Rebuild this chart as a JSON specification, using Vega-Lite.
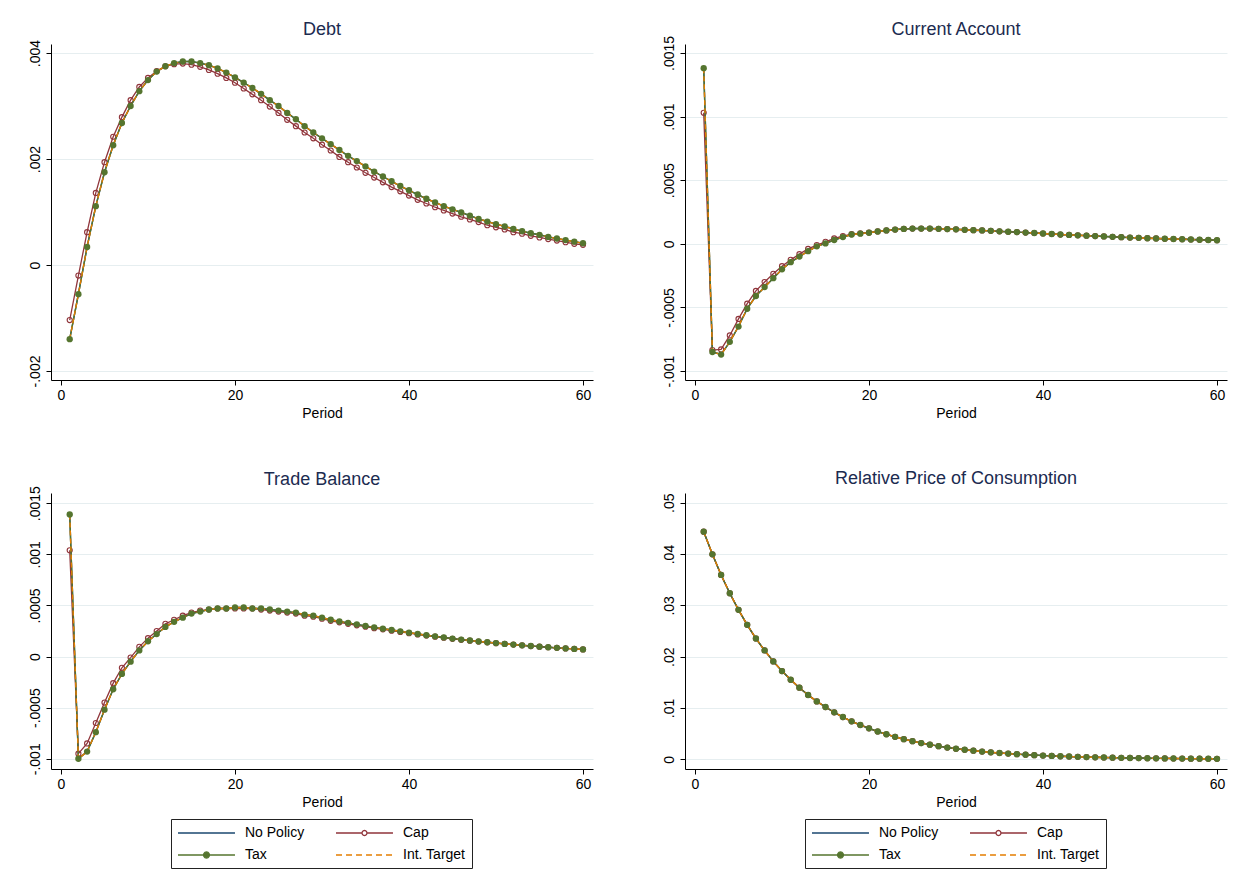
{
"$schema": "https://vega.github.io/schema/vega-lite/v6.json",
"background": "white",
"padding": {"left": 28, "top": 21, "right": 5, "bottom": 5},
"datasets": {
"debt": [
{"t":1,"np":-0.0014,"cap":-0.00104,"tax":-0.0014,"it":-0.0014},
{"t":2,"np":-0.00055,"cap":-0.0002,"tax":-0.00055,"it":-0.00055},
{"t":3,"np":0.00034,"cap":0.00062,"tax":0.00034,"it":0.00034},
{"t":4,"np":0.00111,"cap":0.00136,"tax":0.00111,"it":0.00111},
{"t":5,"np":0.00175,"cap":0.00194,"tax":0.00175,"it":0.00175},
{"t":6,"np":0.00226,"cap":0.00242,"tax":0.00226,"it":0.00226},
{"t":7,"np":0.00268,"cap":0.00279,"tax":0.00268,"it":0.00268},
{"t":8,"np":0.003,"cap":0.00311,"tax":0.003,"it":0.003},
{"t":9,"np":0.00328,"cap":0.00336,"tax":0.00328,"it":0.00328},
{"t":10,"np":0.00349,"cap":0.00353,"tax":0.00349,"it":0.00349},
{"t":11,"np":0.00365,"cap":0.00366,"tax":0.00365,"it":0.00365},
{"t":12,"np":0.00375,"cap":0.00375,"tax":0.00375,"it":0.00375},
{"t":13,"np":0.00381,"cap":0.00379,"tax":0.00381,"it":0.00381},
{"t":14,"np":0.00384,"cap":0.0038,"tax":0.00384,"it":0.00384},
{"t":15,"np":0.00384,"cap":0.00378,"tax":0.00384,"it":0.00384},
{"t":16,"np":0.00381,"cap":0.00374,"tax":0.00381,"it":0.00381},
{"t":17,"np":0.00377,"cap":0.00368,"tax":0.00377,"it":0.00377},
{"t":18,"np":0.00371,"cap":0.00361,"tax":0.00371,"it":0.00371},
{"t":19,"np":0.00363,"cap":0.00353,"tax":0.00363,"it":0.00363},
{"t":20,"np":0.00354,"cap":0.00344,"tax":0.00354,"it":0.00354},
{"t":21,"np":0.00344,"cap":0.00333,"tax":0.00344,"it":0.00344},
{"t":22,"np":0.00334,"cap":0.00322,"tax":0.00334,"it":0.00334},
{"t":23,"np":0.00323,"cap":0.00311,"tax":0.00323,"it":0.00323},
{"t":24,"np":0.00311,"cap":0.00299,"tax":0.00311,"it":0.00311},
{"t":25,"np":0.003,"cap":0.00287,"tax":0.003,"it":0.003},
{"t":26,"np":0.00287,"cap":0.00274,"tax":0.00287,"it":0.00287},
{"t":27,"np":0.00275,"cap":0.00262,"tax":0.00275,"it":0.00275},
{"t":28,"np":0.00262,"cap":0.0025,"tax":0.00262,"it":0.00262},
{"t":29,"np":0.0025,"cap":0.00239,"tax":0.0025,"it":0.0025},
{"t":30,"np":0.00239,"cap":0.00227,"tax":0.00239,"it":0.00239},
{"t":31,"np":0.00228,"cap":0.00216,"tax":0.00228,"it":0.00228},
{"t":32,"np":0.00217,"cap":0.00204,"tax":0.00217,"it":0.00217},
{"t":33,"np":0.00206,"cap":0.00194,"tax":0.00206,"it":0.00206},
{"t":34,"np":0.00196,"cap":0.00184,"tax":0.00196,"it":0.00196},
{"t":35,"np":0.00186,"cap":0.00174,"tax":0.00186,"it":0.00186},
{"t":36,"np":0.00176,"cap":0.00165,"tax":0.00176,"it":0.00176},
{"t":37,"np":0.00167,"cap":0.00156,"tax":0.00167,"it":0.00167},
{"t":38,"np":0.00158,"cap":0.00147,"tax":0.00158,"it":0.00158},
{"t":39,"np":0.00149,"cap":0.00139,"tax":0.00149,"it":0.00149},
{"t":40,"np":0.00141,"cap":0.00131,"tax":0.00141,"it":0.00141},
{"t":41,"np":0.00133,"cap":0.00123,"tax":0.00133,"it":0.00133},
{"t":42,"np":0.00125,"cap":0.00116,"tax":0.00125,"it":0.00125},
{"t":43,"np":0.00118,"cap":0.00109,"tax":0.00118,"it":0.00118},
{"t":44,"np":0.00111,"cap":0.00103,"tax":0.00111,"it":0.00111},
{"t":45,"np":0.00105,"cap":0.00097,"tax":0.00105,"it":0.00105},
{"t":46,"np":0.00099,"cap":0.00091,"tax":0.00099,"it":0.00099},
{"t":47,"np":0.00093,"cap":0.00086,"tax":0.00093,"it":0.00093},
{"t":48,"np":0.00087,"cap":0.00081,"tax":0.00087,"it":0.00087},
{"t":49,"np":0.00082,"cap":0.00075,"tax":0.00082,"it":0.00082},
{"t":50,"np":0.00077,"cap":0.00071,"tax":0.00077,"it":0.00077},
{"t":51,"np":0.00073,"cap":0.00067,"tax":0.00073,"it":0.00073},
{"t":52,"np":0.00068,"cap":0.00062,"tax":0.00068,"it":0.00068},
{"t":53,"np":0.00064,"cap":0.00059,"tax":0.00064,"it":0.00064},
{"t":54,"np":0.0006,"cap":0.00055,"tax":0.0006,"it":0.0006},
{"t":55,"np":0.00057,"cap":0.00052,"tax":0.00057,"it":0.00057},
{"t":56,"np":0.00053,"cap":0.00049,"tax":0.00053,"it":0.00053},
{"t":57,"np":0.0005,"cap":0.00046,"tax":0.0005,"it":0.0005},
{"t":58,"np":0.00047,"cap":0.00043,"tax":0.00047,"it":0.00047},
{"t":59,"np":0.00044,"cap":0.0004,"tax":0.00044,"it":0.00044},
{"t":60,"np":0.00041,"cap":0.00038,"tax":0.00041,"it":0.00041}
],
"ca": [
{"t":1,"np":0.00138,"cap":0.00103,"tax":0.00138,"it":0.00138},
{"t":2,"np":-0.00085,"cap":-0.000835,"tax":-0.00085,"it":-0.00085},
{"t":3,"np":-0.00087,"cap":-0.00083,"tax":-0.00087,"it":-0.00087},
{"t":4,"np":-0.00077,"cap":-0.00072,"tax":-0.00077,"it":-0.00077},
{"t":5,"np":-0.00065,"cap":-0.00059,"tax":-0.00065,"it":-0.00065},
{"t":6,"np":-0.00051,"cap":-0.00047,"tax":-0.00051,"it":-0.00051},
{"t":7,"np":-0.00041,"cap":-0.00037,"tax":-0.00041,"it":-0.00041},
{"t":8,"np":-0.00034,"cap":-0.0003,"tax":-0.00034,"it":-0.00034},
{"t":9,"np":-0.00027,"cap":-0.000236,"tax":-0.00027,"it":-0.00027},
{"t":10,"np":-0.0002,"cap":-0.000176,"tax":-0.0002,"it":-0.0002},
{"t":11,"np":-0.000144,"cap":-0.000126,"tax":-0.000144,"it":-0.000144},
{"t":12,"np":-0.0001,"cap":-0.000081,"tax":-0.0001,"it":-0.0001},
{"t":13,"np":-0.000058,"cap":-0.00004,"tax":-0.000058,"it":-0.000058},
{"t":14,"np":-0.00002,"cap":-0.00001,"tax":-0.00002,"it":-0.00002},
{"t":15,"np":0.000003,"cap":0.000016,"tax":0.000003,"it":0.000003},
{"t":16,"np":0.00003,"cap":0.000042,"tax":0.00003,"it":0.00003},
{"t":17,"np":0.000053,"cap":0.00006,"tax":0.000053,"it":0.000053},
{"t":18,"np":0.000073,"cap":0.000076,"tax":0.000073,"it":0.000073},
{"t":19,"np":0.00008,"cap":0.000083,"tax":0.00008,"it":0.00008},
{"t":20,"np":0.000087,"cap":0.000088,"tax":0.000087,"it":0.000087},
{"t":21,"np":0.000097,"cap":0.000097,"tax":0.000097,"it":0.000097},
{"t":22,"np":0.000105,"cap":0.000105,"tax":0.000105,"it":0.000105},
{"t":23,"np":0.000112,"cap":0.000112,"tax":0.000112,"it":0.000112},
{"t":24,"np":0.000117,"cap":0.000117,"tax":0.000117,"it":0.000117},
{"t":25,"np":0.00012,"cap":0.00012,"tax":0.00012,"it":0.00012},
{"t":26,"np":0.00012,"cap":0.00012,"tax":0.00012,"it":0.00012},
{"t":27,"np":0.00012,"cap":0.00012,"tax":0.00012,"it":0.00012},
{"t":28,"np":0.000118,"cap":0.000118,"tax":0.000118,"it":0.000118},
{"t":29,"np":0.000116,"cap":0.000116,"tax":0.000116,"it":0.000116},
{"t":30,"np":0.000114,"cap":0.000114,"tax":0.000114,"it":0.000114},
{"t":31,"np":0.00011,"cap":0.00011,"tax":0.00011,"it":0.00011},
{"t":32,"np":0.000107,"cap":0.000107,"tax":0.000107,"it":0.000107},
{"t":33,"np":0.000105,"cap":0.000105,"tax":0.000105,"it":0.000105},
{"t":34,"np":0.000102,"cap":0.000102,"tax":0.000102,"it":0.000102},
{"t":35,"np":0.000098,"cap":0.000098,"tax":0.000098,"it":0.000098},
{"t":36,"np":0.000095,"cap":0.000095,"tax":0.000095,"it":0.000095},
{"t":37,"np":0.000092,"cap":0.000092,"tax":0.000092,"it":0.000092},
{"t":38,"np":0.000088,"cap":0.000088,"tax":0.000088,"it":0.000088},
{"t":39,"np":0.000085,"cap":0.000085,"tax":0.000085,"it":0.000085},
{"t":40,"np":0.000081,"cap":0.000081,"tax":0.000081,"it":0.000081},
{"t":41,"np":0.000077,"cap":0.000077,"tax":0.000077,"it":0.000077},
{"t":42,"np":0.000073,"cap":0.000073,"tax":0.000073,"it":0.000073},
{"t":43,"np":0.00007,"cap":0.00007,"tax":0.00007,"it":0.00007},
{"t":44,"np":0.000067,"cap":0.000067,"tax":0.000067,"it":0.000067},
{"t":45,"np":0.000064,"cap":0.000064,"tax":0.000064,"it":0.000064},
{"t":46,"np":0.000061,"cap":0.000061,"tax":0.000061,"it":0.000061},
{"t":47,"np":0.000058,"cap":0.000058,"tax":0.000058,"it":0.000058},
{"t":48,"np":0.000055,"cap":0.000055,"tax":0.000055,"it":0.000055},
{"t":49,"np":0.000052,"cap":0.000052,"tax":0.000052,"it":0.000052},
{"t":50,"np":0.000049,"cap":0.000049,"tax":0.000049,"it":0.000049},
{"t":51,"np":0.000047,"cap":0.000047,"tax":0.000047,"it":0.000047},
{"t":52,"np":0.000044,"cap":0.000044,"tax":0.000044,"it":0.000044},
{"t":53,"np":0.000042,"cap":0.000042,"tax":0.000042,"it":0.000042},
{"t":54,"np":0.00004,"cap":0.00004,"tax":0.00004,"it":0.00004},
{"t":55,"np":0.000038,"cap":0.000038,"tax":0.000038,"it":0.000038},
{"t":56,"np":0.000036,"cap":0.000036,"tax":0.000036,"it":0.000036},
{"t":57,"np":0.000034,"cap":0.000034,"tax":0.000034,"it":0.000034},
{"t":58,"np":0.000032,"cap":0.000032,"tax":0.000032,"it":0.000032},
{"t":59,"np":0.00003,"cap":0.00003,"tax":0.00003,"it":0.00003},
{"t":60,"np":0.000028,"cap":0.000028,"tax":0.000028,"it":0.000028}
],
"tb": [
{"t":1,"np":0.00139,"cap":0.00104,"tax":0.00139,"it":0.00139},
{"t":2,"np":-0.001,"cap":-0.00095,"tax":-0.001,"it":-0.001},
{"t":3,"np":-0.00093,"cap":-0.00085,"tax":-0.00093,"it":-0.00093},
{"t":4,"np":-0.00074,"cap":-0.00065,"tax":-0.00074,"it":-0.00074},
{"t":5,"np":-0.00052,"cap":-0.00045,"tax":-0.00052,"it":-0.00052},
{"t":6,"np":-0.00032,"cap":-0.00026,"tax":-0.00032,"it":-0.00032},
{"t":7,"np":-0.00017,"cap":-0.00011,"tax":-0.00017,"it":-0.00017},
{"t":8,"np":-0.00005,"cap":-0.00001,"tax":-0.00005,"it":-0.00005},
{"t":9,"np":0.00006,"cap":0.000095,"tax":0.00006,"it":0.00006},
{"t":10,"np":0.00015,"cap":0.00018,"tax":0.00015,"it":0.00015},
{"t":11,"np":0.00022,"cap":0.00025,"tax":0.00022,"it":0.00022},
{"t":12,"np":0.00029,"cap":0.00032,"tax":0.00029,"it":0.00029},
{"t":13,"np":0.00034,"cap":0.00036,"tax":0.00034,"it":0.00034},
{"t":14,"np":0.00038,"cap":0.0004,"tax":0.00038,"it":0.00038},
{"t":15,"np":0.00042,"cap":0.00043,"tax":0.00042,"it":0.00042},
{"t":16,"np":0.00044,"cap":0.00045,"tax":0.00044,"it":0.00044},
{"t":17,"np":0.00046,"cap":0.00046,"tax":0.00046,"it":0.00046},
{"t":18,"np":0.00047,"cap":0.00047,"tax":0.00047,"it":0.00047},
{"t":19,"np":0.00047,"cap":0.00047,"tax":0.00047,"it":0.00047},
{"t":20,"np":0.00048,"cap":0.00047,"tax":0.00048,"it":0.00048},
{"t":21,"np":0.00048,"cap":0.00047,"tax":0.00048,"it":0.00048},
{"t":22,"np":0.00047,"cap":0.00047,"tax":0.00047,"it":0.00047},
{"t":23,"np":0.00047,"cap":0.00046,"tax":0.00047,"it":0.00047},
{"t":24,"np":0.00046,"cap":0.00045,"tax":0.00046,"it":0.00046},
{"t":25,"np":0.00045,"cap":0.00044,"tax":0.00045,"it":0.00045},
{"t":26,"np":0.00044,"cap":0.00043,"tax":0.00044,"it":0.00044},
{"t":27,"np":0.00043,"cap":0.00042,"tax":0.00043,"it":0.00043},
{"t":28,"np":0.00041,"cap":0.0004,"tax":0.00041,"it":0.00041},
{"t":29,"np":0.0004,"cap":0.00039,"tax":0.0004,"it":0.0004},
{"t":30,"np":0.00038,"cap":0.00037,"tax":0.00038,"it":0.00038},
{"t":31,"np":0.00036,"cap":0.00035,"tax":0.00036,"it":0.00036},
{"t":32,"np":0.000344,"cap":0.000335,"tax":0.000344,"it":0.000344},
{"t":33,"np":0.00033,"cap":0.00032,"tax":0.00033,"it":0.00033},
{"t":34,"np":0.000315,"cap":0.000306,"tax":0.000315,"it":0.000315},
{"t":35,"np":0.0003,"cap":0.000292,"tax":0.0003,"it":0.0003},
{"t":36,"np":0.000286,"cap":0.000278,"tax":0.000286,"it":0.000286},
{"t":37,"np":0.000273,"cap":0.000266,"tax":0.000273,"it":0.000273},
{"t":38,"np":0.00026,"cap":0.000253,"tax":0.00026,"it":0.00026},
{"t":39,"np":0.000247,"cap":0.000241,"tax":0.000247,"it":0.000247},
{"t":40,"np":0.000234,"cap":0.000229,"tax":0.000234,"it":0.000234},
{"t":41,"np":0.000221,"cap":0.000216,"tax":0.000221,"it":0.000221},
{"t":42,"np":0.000209,"cap":0.000205,"tax":0.000209,"it":0.000209},
{"t":43,"np":0.000198,"cap":0.000194,"tax":0.000198,"it":0.000198},
{"t":44,"np":0.000187,"cap":0.000184,"tax":0.000187,"it":0.000187},
{"t":45,"np":0.000176,"cap":0.000173,"tax":0.000176,"it":0.000176},
{"t":46,"np":0.000166,"cap":0.000164,"tax":0.000166,"it":0.000166},
{"t":47,"np":0.000157,"cap":0.000155,"tax":0.000157,"it":0.000157},
{"t":48,"np":0.000148,"cap":0.000147,"tax":0.000148,"it":0.000148},
{"t":49,"np":0.00014,"cap":0.000139,"tax":0.00014,"it":0.00014},
{"t":50,"np":0.000132,"cap":0.000131,"tax":0.000132,"it":0.000132},
{"t":51,"np":0.000124,"cap":0.000124,"tax":0.000124,"it":0.000124},
{"t":52,"np":0.000117,"cap":0.000117,"tax":0.000117,"it":0.000117},
{"t":53,"np":0.00011,"cap":0.00011,"tax":0.00011,"it":0.00011},
{"t":54,"np":0.000103,"cap":0.000103,"tax":0.000103,"it":0.000103},
{"t":55,"np":0.000097,"cap":0.000097,"tax":0.000097,"it":0.000097},
{"t":56,"np":0.000091,"cap":0.000091,"tax":0.000091,"it":0.000091},
{"t":57,"np":0.000085,"cap":0.000085,"tax":0.000085,"it":0.000085},
{"t":58,"np":0.00008,"cap":0.00008,"tax":0.00008,"it":0.00008},
{"t":59,"np":0.000075,"cap":0.000075,"tax":0.000075,"it":0.000075},
{"t":60,"np":0.00007,"cap":0.00007,"tax":0.00007,"it":0.00007}
],
"rp": [
{"t":1,"np":0.04436,"cap":0.04436,"tax":0.04436,"it":0.04436},
{"t":2,"np":0.03995,"cap":0.03995,"tax":0.03995,"it":0.03995},
{"t":3,"np":0.03593,"cap":0.03593,"tax":0.03593,"it":0.03593},
{"t":4,"np":0.03236,"cap":0.03236,"tax":0.03236,"it":0.03236},
{"t":5,"np":0.02912,"cap":0.02912,"tax":0.02912,"it":0.02912},
{"t":6,"np":0.0262,"cap":0.0262,"tax":0.0262,"it":0.0262},
{"t":7,"np":0.02354,"cap":0.02354,"tax":0.02354,"it":0.02354},
{"t":8,"np":0.02121,"cap":0.02121,"tax":0.02121,"it":0.02121},
{"t":9,"np":0.01907,"cap":0.01907,"tax":0.01907,"it":0.01907},
{"t":10,"np":0.01719,"cap":0.01719,"tax":0.01719,"it":0.01719},
{"t":11,"np":0.0155,"cap":0.0155,"tax":0.0155,"it":0.0155},
{"t":12,"np":0.01395,"cap":0.01395,"tax":0.01395,"it":0.01395},
{"t":13,"np":0.01252,"cap":0.01252,"tax":0.01252,"it":0.01252},
{"t":14,"np":0.01128,"cap":0.01128,"tax":0.01128,"it":0.01128},
{"t":15,"np":0.01018,"cap":0.01018,"tax":0.01018,"it":0.01018},
{"t":16,"np":0.00914,"cap":0.00914,"tax":0.00914,"it":0.00914},
{"t":17,"np":0.00823,"cap":0.00823,"tax":0.00823,"it":0.00823},
{"t":18,"np":0.00739,"cap":0.00739,"tax":0.00739,"it":0.00739},
{"t":19,"np":0.00668,"cap":0.00668,"tax":0.00668,"it":0.00668},
{"t":20,"np":0.00603,"cap":0.00603,"tax":0.00603,"it":0.00603},
{"t":21,"np":0.00541,"cap":0.00541,"tax":0.00541,"it":0.00541},
{"t":22,"np":0.00487,"cap":0.00487,"tax":0.00487,"it":0.00487},
{"t":23,"np":0.00437,"cap":0.00437,"tax":0.00437,"it":0.00437},
{"t":24,"np":0.00392,"cap":0.00392,"tax":0.00392,"it":0.00392},
{"t":25,"np":0.00352,"cap":0.00352,"tax":0.00352,"it":0.00352},
{"t":26,"np":0.00316,"cap":0.00316,"tax":0.00316,"it":0.00316},
{"t":27,"np":0.00284,"cap":0.00284,"tax":0.00284,"it":0.00284},
{"t":28,"np":0.00255,"cap":0.00255,"tax":0.00255,"it":0.00255},
{"t":29,"np":0.00228,"cap":0.00228,"tax":0.00228,"it":0.00228},
{"t":30,"np":0.00205,"cap":0.00205,"tax":0.00205,"it":0.00205},
{"t":31,"np":0.00185,"cap":0.00185,"tax":0.00185,"it":0.00185},
{"t":32,"np":0.00167,"cap":0.00167,"tax":0.00167,"it":0.00167},
{"t":33,"np":0.0015,"cap":0.0015,"tax":0.0015,"it":0.0015},
{"t":34,"np":0.00135,"cap":0.00135,"tax":0.00135,"it":0.00135},
{"t":35,"np":0.00122,"cap":0.00122,"tax":0.00122,"it":0.00122},
{"t":36,"np":0.0011,"cap":0.0011,"tax":0.0011,"it":0.0011},
{"t":37,"np":0.00099,"cap":0.00099,"tax":0.00099,"it":0.00099},
{"t":38,"np":0.00089,"cap":0.00089,"tax":0.00089,"it":0.00089},
{"t":39,"np":0.0008,"cap":0.0008,"tax":0.0008,"it":0.0008},
{"t":40,"np":0.00072,"cap":0.00072,"tax":0.00072,"it":0.00072},
{"t":41,"np":0.00065,"cap":0.00065,"tax":0.00065,"it":0.00065},
{"t":42,"np":0.00058,"cap":0.00058,"tax":0.00058,"it":0.00058},
{"t":43,"np":0.00053,"cap":0.00053,"tax":0.00053,"it":0.00053},
{"t":44,"np":0.00047,"cap":0.00047,"tax":0.00047,"it":0.00047},
{"t":45,"np":0.00043,"cap":0.00043,"tax":0.00043,"it":0.00043},
{"t":46,"np":0.00038,"cap":0.00038,"tax":0.00038,"it":0.00038},
{"t":47,"np":0.00034,"cap":0.00034,"tax":0.00034,"it":0.00034},
{"t":48,"np":0.00031,"cap":0.00031,"tax":0.00031,"it":0.00031},
{"t":49,"np":0.00028,"cap":0.00028,"tax":0.00028,"it":0.00028},
{"t":50,"np":0.00025,"cap":0.00025,"tax":0.00025,"it":0.00025},
{"t":51,"np":0.00023,"cap":0.00023,"tax":0.00023,"it":0.00023},
{"t":52,"np":0.0002,"cap":0.0002,"tax":0.0002,"it":0.0002},
{"t":53,"np":0.00018,"cap":0.00018,"tax":0.00018,"it":0.00018},
{"t":54,"np":0.00017,"cap":0.00017,"tax":0.00017,"it":0.00017},
{"t":55,"np":0.00015,"cap":0.00015,"tax":0.00015,"it":0.00015},
{"t":56,"np":0.00013,"cap":0.00013,"tax":0.00013,"it":0.00013},
{"t":57,"np":0.00012,"cap":0.00012,"tax":0.00012,"it":0.00012},
{"t":58,"np":0.00011,"cap":0.00011,"tax":0.00011,"it":0.00011},
{"t":59,"np":0.0001,"cap":0.0001,"tax":0.0001,"it":0.0001},
{"t":60,"np":0.00009,"cap":0.00009,"tax":0.00009,"it":0.00009}
]
},
"columns": 2,
"spacing": {"row": 113, "column": 92},
"bounds": "flush",
"resolve": {
  "scale": {"shape": "independent", "stroke": "independent", "fill": "independent"},
  "legend": {"shape": "independent", "stroke": "independent", "fill": "independent"}
},
"concat": [
{
 "width": 542, "height": 336,
 "data": {"name": "debt"},
 "title": {"text": "Debt", "offset": 0},
 "encoding": {"x": {"field": "t", "type": "quantitative", "scale": {"domain": [-1.15, 61.15], "nice": false, "zero": false}, "axis": {"values": [0, 20, 40, 60], "title": "Period"}}},
 "layer": [
  {"mark": {"type": "line", "color": "#1a476f", "strokeWidth": 1.4}, "encoding": {"y": {"field": "np", "type": "quantitative", "scale": {"domain": [-0.00217, 0.00417], "nice": false, "zero": false}, "axis": {"values": [-0.002, 0, 0.002, 0.004], "title": null, "labelExpr": "datum.value == 0 ? '0' : replace(toString(datum.value), '0.', '.')"}}}},
  {"mark": {"type": "line", "color": "#90353b", "strokeWidth": 1.3}, "encoding": {"y": {"field": "cap", "type": "quantitative"}}},
  {"mark": {"type": "point", "color": "#90353b", "filled": false, "size": 26, "strokeWidth": 1.1, "opacity": 1}, "encoding": {"y": {"field": "cap", "type": "quantitative"}}},
  {"mark": {"type": "line", "color": "#55752f", "strokeWidth": 1.4}, "encoding": {"y": {"field": "tax", "type": "quantitative"}}},
  {"mark": {"type": "line", "color": "#e37e00", "strokeWidth": 1.4, "strokeDash": [5, 3]}, "encoding": {"y": {"field": "it", "type": "quantitative"}}},
  {"mark": {"type": "point", "color": "#55752f", "filled": true, "size": 40, "opacity": 1}, "encoding": {"y": {"field": "tax", "type": "quantitative"}}}
 ]
},
{
 "width": 542, "height": 336,
 "data": {"name": "ca"},
 "title": {"text": "Current Account", "offset": -4},
 "encoding": {"x": {"field": "t", "type": "quantitative", "scale": {"domain": [-1.15, 61.15], "nice": false, "zero": false}, "axis": {"values": [0, 20, 40, 60], "title": "Period"}}},
 "layer": [
  {"mark": {"type": "line", "color": "#1a476f", "strokeWidth": 1.4}, "encoding": {"y": {"field": "np", "type": "quantitative", "scale": {"domain": [-0.00107, 0.00157], "nice": false, "zero": false}, "axis": {"values": [-0.001, -0.0005, 0, 0.0005, 0.001, 0.0015], "title": null, "labelExpr": "datum.value == 0 ? '0' : replace(toString(datum.value), '0.', '.')"}}}},
  {"mark": {"type": "line", "color": "#90353b", "strokeWidth": 1.3}, "encoding": {"y": {"field": "cap", "type": "quantitative"}}},
  {"mark": {"type": "point", "color": "#90353b", "filled": false, "size": 26, "strokeWidth": 1.1, "opacity": 1}, "encoding": {"y": {"field": "cap", "type": "quantitative"}}},
  {"mark": {"type": "line", "color": "#55752f", "strokeWidth": 1.4}, "encoding": {"y": {"field": "tax", "type": "quantitative"}}},
  {"mark": {"type": "line", "color": "#e37e00", "strokeWidth": 1.4, "strokeDash": [5, 3]}, "encoding": {"y": {"field": "it", "type": "quantitative"}}},
  {"mark": {"type": "point", "color": "#55752f", "filled": true, "size": 40, "opacity": 1}, "encoding": {"y": {"field": "tax", "type": "quantitative"}}}
 ]
},
{
 "width": 542, "height": 276,
 "data": {"name": "tb"},
 "title": {"text": "Trade Balance", "offset": -3},
 "encoding": {"x": {"field": "t", "type": "quantitative", "scale": {"domain": [-1.15, 61.15], "nice": false, "zero": false}, "axis": {"values": [0, 20, 40, 60], "title": "Period"}}},
 "layer": [
  {"mark": {"type": "line", "color": "#1a476f", "strokeWidth": 1.4}, "encoding": {"y": {"field": "np", "type": "quantitative", "scale": {"domain": [-0.0011, 0.0016], "nice": false, "zero": false}, "axis": {"values": [-0.001, -0.0005, 0, 0.0005, 0.001, 0.0015], "title": null, "labelExpr": "datum.value == 0 ? '0' : replace(toString(datum.value), '0.', '.')"}}}},
  {"mark": {"type": "line", "color": "#90353b", "strokeWidth": 1.3}, "encoding": {"y": {"field": "cap", "type": "quantitative"}}},
  {"mark": {"type": "point", "color": "#90353b", "filled": false, "size": 26, "strokeWidth": 1.1, "opacity": 1}, "encoding": {"y": {"field": "cap", "type": "quantitative"}}},
  {"mark": {"type": "line", "color": "#55752f", "strokeWidth": 1.4}, "encoding": {"y": {"field": "tax", "type": "quantitative"}}},
  {"mark": {"type": "line", "color": "#e37e00", "strokeWidth": 1.4, "strokeDash": [5, 3]}, "encoding": {"y": {"field": "it", "type": "quantitative"}}},
  {"mark": {"type": "point", "color": "#55752f", "filled": true, "size": 40, "opacity": 1}, "encoding": {"y": {"field": "tax", "type": "quantitative"}}},
  {"transform": [{"fold": ["np", "cap", "tax", "it"], "as": ["series", "v"]}],
   "mark": {"type": "point", "size": 0, "strokeWidth": 1.3, "opacity": 1},
   "encoding": {
    "y": {"field": "v", "type": "quantitative"},
    "shape": {"field": "series", "type": "nominal", "scale": {"domain": ["np", "cap", "tax", "it"], "range": ["M-1,0L7.14,0", "M-1,0L2.71,0M3.43,0L7.14,0M3.43,0L3.38,0.18L3.25,0.31L3.07,0.36L2.89,0.31L2.76,0.18L2.71,0L2.76,-0.18L2.89,-0.31L3.07,-0.36L3.25,-0.31L3.38,-0.18Z", "M-1,0L7.14,0M3.5,0L3.44,0.215L3.29,0.372L3.07,0.43L2.85,0.372L2.7,0.215L2.64,0L2.7,-0.215L2.85,-0.372L3.07,-0.43L3.29,-0.372L3.44,-0.215Z", "M-1,0L-0.14,0M0.43,0L1.29,0M1.86,0L2.71,0M3.29,0L4.14,0M4.71,0L5.57,0M6.14,0L7,0"]},
      "legend": {"title": null, "orient": "none", "direction": "horizontal", "legendX": 120, "legendY": 326, "columns": 2, "columnPadding": 28, "rowPadding": 7, "padding": 6, "symbolSize": 196, "symbolStrokeWidth": 1.3, "labelOffset": 52, "labelFontSize": 14, "labelFont": "Liberation Sans", "labelColor": "#000", "strokeColor": "#222", "fillColor": "#fff", "labelExpr": "datum.label == 'np' ? 'No Policy' : datum.label == 'cap' ? 'Cap' : datum.label == 'tax' ? 'Tax' : 'Int. Target'"}},
    "stroke": {"field": "series", "type": "nominal", "scale": {"domain": ["np", "cap", "tax", "it"], "range": ["#1a476f", "#90353b", "#55752f", "#e37e00"]},
      "legend": {"title": null, "orient": "none", "direction": "horizontal", "legendX": 120, "legendY": 326, "columns": 2, "columnPadding": 28, "rowPadding": 7, "padding": 6, "symbolSize": 196, "symbolStrokeWidth": 1.3, "labelOffset": 52, "labelFontSize": 14, "labelFont": "Liberation Sans", "labelColor": "#000", "strokeColor": "#222", "fillColor": "#fff", "labelExpr": "datum.label == 'np' ? 'No Policy' : datum.label == 'cap' ? 'Cap' : datum.label == 'tax' ? 'Tax' : 'Int. Target'"}},
    "fill": {"field": "series", "type": "nominal", "scale": {"domain": ["np", "cap", "tax", "it"], "range": ["transparent", "#ffffff", "#55752f", "transparent"]},
      "legend": {"title": null, "orient": "none", "direction": "horizontal", "legendX": 120, "legendY": 326, "columns": 2, "columnPadding": 28, "rowPadding": 7, "padding": 6, "symbolSize": 196, "symbolStrokeWidth": 1.3, "labelOffset": 52, "labelFontSize": 14, "labelFont": "Liberation Sans", "labelColor": "#000", "strokeColor": "#222", "fillColor": "#fff", "labelExpr": "datum.label == 'np' ? 'No Policy' : datum.label == 'cap' ? 'Cap' : datum.label == 'tax' ? 'Tax' : 'Int. Target'"}}
   }
  }
 ]
},
{
 "width": 542, "height": 276,
 "data": {"name": "rp"},
 "title": {"text": "Relative Price of Consumption", "offset": 5},
 "encoding": {"x": {"field": "t", "type": "quantitative", "scale": {"domain": [-1.15, 61.15], "nice": false, "zero": false}, "axis": {"values": [0, 20, 40, 60], "title": "Period"}}},
 "layer": [
  {"mark": {"type": "line", "color": "#1a476f", "strokeWidth": 1.4}, "encoding": {"y": {"field": "np", "type": "quantitative", "scale": {"domain": [-0.0019, 0.0519], "nice": false, "zero": false}, "axis": {"values": [0, 0.01, 0.02, 0.03, 0.04, 0.05], "title": null, "labelExpr": "datum.value == 0 ? '0' : replace(toString(datum.value), '0.', '.')"}}}},
  {"mark": {"type": "line", "color": "#90353b", "strokeWidth": 1.3}, "encoding": {"y": {"field": "cap", "type": "quantitative"}}},
  {"mark": {"type": "point", "color": "#90353b", "filled": false, "size": 26, "strokeWidth": 1.1, "opacity": 1}, "encoding": {"y": {"field": "cap", "type": "quantitative"}}},
  {"mark": {"type": "line", "color": "#55752f", "strokeWidth": 1.4}, "encoding": {"y": {"field": "tax", "type": "quantitative"}}},
  {"mark": {"type": "line", "color": "#e37e00", "strokeWidth": 1.4, "strokeDash": [5, 3]}, "encoding": {"y": {"field": "it", "type": "quantitative"}}},
  {"mark": {"type": "point", "color": "#55752f", "filled": true, "size": 40, "opacity": 1}, "encoding": {"y": {"field": "tax", "type": "quantitative"}}},
  {"transform": [{"fold": ["np", "cap", "tax", "it"], "as": ["series", "v"]}],
   "mark": {"type": "point", "size": 0, "strokeWidth": 1.3, "opacity": 1},
   "encoding": {
    "y": {"field": "v", "type": "quantitative"},
    "shape": {"field": "series", "type": "nominal", "scale": {"domain": ["np", "cap", "tax", "it"], "range": ["M-1,0L7.14,0", "M-1,0L2.71,0M3.43,0L7.14,0M3.43,0L3.38,0.18L3.25,0.31L3.07,0.36L2.89,0.31L2.76,0.18L2.71,0L2.76,-0.18L2.89,-0.31L3.07,-0.36L3.25,-0.31L3.38,-0.18Z", "M-1,0L7.14,0M3.5,0L3.44,0.215L3.29,0.372L3.07,0.43L2.85,0.372L2.7,0.215L2.64,0L2.7,-0.215L2.85,-0.372L3.07,-0.43L3.29,-0.372L3.44,-0.215Z", "M-1,0L-0.14,0M0.43,0L1.29,0M1.86,0L2.71,0M3.29,0L4.14,0M4.71,0L5.57,0M6.14,0L7,0"]},
      "legend": {"title": null, "orient": "none", "direction": "horizontal", "legendX": 120, "legendY": 326, "columns": 2, "columnPadding": 28, "rowPadding": 7, "padding": 6, "symbolSize": 196, "symbolStrokeWidth": 1.3, "labelOffset": 52, "labelFontSize": 14, "labelFont": "Liberation Sans", "labelColor": "#000", "strokeColor": "#222", "fillColor": "#fff", "labelExpr": "datum.label == 'np' ? 'No Policy' : datum.label == 'cap' ? 'Cap' : datum.label == 'tax' ? 'Tax' : 'Int. Target'"}},
    "stroke": {"field": "series", "type": "nominal", "scale": {"domain": ["np", "cap", "tax", "it"], "range": ["#1a476f", "#90353b", "#55752f", "#e37e00"]},
      "legend": {"title": null, "orient": "none", "direction": "horizontal", "legendX": 120, "legendY": 326, "columns": 2, "columnPadding": 28, "rowPadding": 7, "padding": 6, "symbolSize": 196, "symbolStrokeWidth": 1.3, "labelOffset": 52, "labelFontSize": 14, "labelFont": "Liberation Sans", "labelColor": "#000", "strokeColor": "#222", "fillColor": "#fff", "labelExpr": "datum.label == 'np' ? 'No Policy' : datum.label == 'cap' ? 'Cap' : datum.label == 'tax' ? 'Tax' : 'Int. Target'"}},
    "fill": {"field": "series", "type": "nominal", "scale": {"domain": ["np", "cap", "tax", "it"], "range": ["transparent", "#ffffff", "#55752f", "transparent"]},
      "legend": {"title": null, "orient": "none", "direction": "horizontal", "legendX": 120, "legendY": 326, "columns": 2, "columnPadding": 28, "rowPadding": 7, "padding": 6, "symbolSize": 196, "symbolStrokeWidth": 1.3, "labelOffset": 52, "labelFontSize": 14, "labelFont": "Liberation Sans", "labelColor": "#000", "strokeColor": "#222", "fillColor": "#fff", "labelExpr": "datum.label == 'np' ? 'No Policy' : datum.label == 'cap' ? 'Cap' : datum.label == 'tax' ? 'Tax' : 'Int. Target'"}}
   }
  }
 ]
}
],
"config": {
 "font": "Liberation Sans",
 "view": {"stroke": null},
 "axis": {"labelFont": "Liberation Sans", "titleFont": "Liberation Sans", "labelFontSize": 14, "titleFontSize": 14, "titleFontWeight": "normal", "labelColor": "#000", "titleColor": "#000", "domainColor": "#000", "tickColor": "#000", "tickSize": 5, "domainWidth": 1, "tickWidth": 1, "labelFlush": false, "labelOverlap": false, "labelBound": false},
 "axisX": {"grid": false, "labelPadding": 3, "titlePadding": 4},
 "axisY": {"grid": true, "gridColor": "#e6eef0", "gridWidth": 1, "labelAngle": -90, "labelAlign": "center", "labelBaseline": "bottom", "labelPadding": 4},
 "title": {"font": "Liberation Sans", "fontSize": 18, "fontWeight": "normal", "color": "#1c2b50", "offset": 7, "frame": "group", "anchor": "middle"}
}
}
